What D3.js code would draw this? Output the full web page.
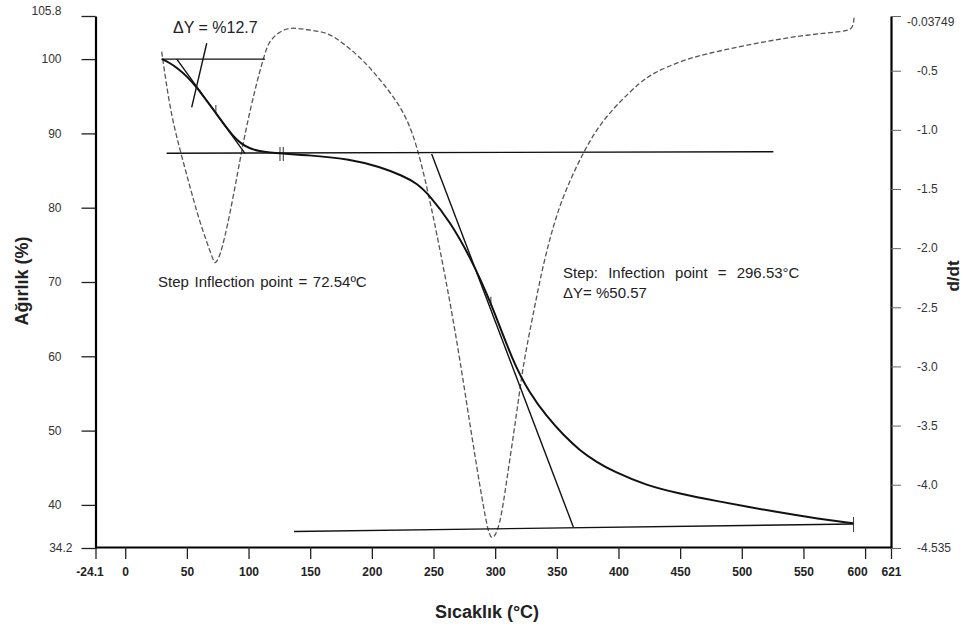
<!DOCTYPE html>
<html>
<head>
<meta charset="utf-8">
<script src="https://cdnjs.cloudflare.com/ajax/libs/d3/7.8.5/d3.min.js"></script>
<style>
  body { margin: 0; background: #fff; }
  svg { display: block; font-family: "Liberation Sans", Arial, sans-serif; }
</style>
</head>
<body>
<div id="chart"></div>
<script>

// TG curve - temperature (C) and weight (%)
var tgTemp = [29.6, 36, 41.8, 50, 58, 66, 74.2, 81, 87.7, 94, 101.2, 109, 117.4, 125.5, 150, 182.3, 206.6, 225,
	236.4, 247.2, 263.4, 279.6, 295.8, 314.7, 328.2, 341.8, 355.3, 368.8, 382, 395.8, 422.9, 450, 476.9, 531, 560, 590.4];
var tgWeight = [100, 99.5, 98.85, 97.7, 96.2, 94.4, 92.6, 91.0, 89.6, 88.6, 87.95, 87.6, 87.42, 87.3, 87.05, 86.55, 85.5, 84.3,
	83.3, 81.6, 78.1, 73.4, 67.6, 59.1, 55.0, 51.9, 49.4, 47.3, 45.8, 44.5, 42.6, 41.5, 40.6, 38.95, 38.2, 37.52];

// DTG curve - temperature (C) and d/dt
var dtgTemp = [29.6, 36.3, 44.4, 52.5, 60.6, 71.4, 72.8, 78.2, 87.7, 94.5, 101.2, 109.3, 113.4, 116.0, 122.8,
	133.6, 147.2, 163.4, 176.9, 193.1, 209.3, 225.5, 236.4, 247.2, 255.3, 263.4, 271.5, 279.6, 287.7, 293.4, 297.2,
	303.9, 309.4, 317.5, 322.8, 331.0, 339.0, 349.9, 360.7, 372.5, 385.0, 401.2, 417.4, 428.2, 449.9, 471.5,
	498.5, 525.6, 552.6, 579.6, 590.4, 591];
var dtgValue = [-0.339, -0.832, -1.170, -1.481, -1.790, -2.100, -2.143, -2.044, -1.565, -1.170, -0.832, -0.494, -0.353, -0.268, -0.184,
	-0.128, -0.156, -0.170, -0.268, -0.410, -0.607, -0.832, -1.114, -1.60, -2.016, -2.455, -2.946, -3.495, -4.019, -4.357, -4.49,
	-4.355, -3.960, -3.396, -2.974, -2.551, -2.128, -1.705, -1.424, -1.17, -0.95, -0.76, -0.60, -0.52, -0.42, -0.355,
	-0.297, -0.240, -0.198, -0.170, -0.156, -0.045];

// Step analysis construction lines [[T, W], [T, W]]
var step1Segments = [
	[[29.6, 100], [113.4, 100]],
	[[41.8, 100], [97.1, 87.32]],
	[[33.6, 87.32], [525.6, 87.54]],
	[[66.1, 102.13], [53.9, 93.51]]
];
var step2Segments = [
	[[248.5, 87.23], [363.4, 37.03]],
	[[136.9, 36.42], [590.6, 37.43]]
];
// small marker ticks
var markerSegments = [
	[[73.5, 93.82], [73.5, 92.7]],
	[[125.5, 88.17], [125.5, 86.28]],
	[[128.2, 88.17], [128.2, 86.28]],
	[[296.5, 68.0], [296.5, 66.8]],
	[[590.6, 38.37], [590.6, 36.35]]
];

// Tick values
var xTicks = [-24.1, 0, 50, 100, 150, 200, 250, 300, 350, 400, 450, 500, 550, 600, 621];
var yLeftTicks = [34.2, 40, 50, 60, 70, 80, 90, 100, 105.8];
var yRightTicks = [-4.535, -4.0, -3.5, -3.0, -2.5, -2.0, -1.5, -1.0, -0.5, -0.03749];
var yRightLabels = ["-4.535", "-4.0", "-3.5", "-3.0", "-2.5", "-2.0", "-1.5", "-1.0", "-0.5", "-0.03749"];

var width = 963, height = 628;

var svg = d3.select('#chart').append('svg')
	.attr('width', width)
	.attr('height', height);

// Scales
var x = d3.scaleLinear().domain([-24.1, 621]).range([95.5, 891]);
var yL = d3.scaleLinear().domain([34.2, 105.8]).range([548, 16]);
var yR = d3.scaleLinear().domain([-4.535, -0.03749]).range([548, 16]);

// Axes
var xAxis = svg.append('g')
	.attr('transform', 'translate(0,547)')
	.call(d3.axisBottom(x).tickValues(xTicks).tickSize(12).tickSizeOuter(0).tickPadding(8)
		.tickFormat(function(d) { return String(d); }));
xAxis.select('.domain').attr('stroke-width', 2.2);
xAxis.selectAll('.tick line').attr('stroke', '#222').attr('stroke-width', 1.3);
xAxis.selectAll('.tick text')
	.attr('font-size', 12).attr('font-weight', 'bold').attr('fill', '#222')
	.attr('font-family', '"Liberation Sans", Arial, sans-serif')
	.attr('dx', function(d) { return d === -24.1 ? -6 : (d === 600 ? -8 : 0); });

var leftAxis = svg.append('g')
	.attr('transform', 'translate(95.5,0)')
	.call(d3.axisLeft(yL).tickValues(yLeftTicks).tickSize(14).tickSizeOuter(0).tickPadding(20)
		.tickFormat(function(d) { return String(d); }));
leftAxis.select('.domain').attr('stroke-width', 2.2);
leftAxis.selectAll('.tick line').attr('stroke', '#222').attr('stroke-width', 1.3);
leftAxis.selectAll('.tick text')
	.attr('font-size', 12).attr('fill', '#333')
	.attr('font-family', '"Liberation Sans", Arial, sans-serif')
	.attr('dy', function(d) { return d === 105.8 ? '-0.1em' : '0.32em'; })
	.attr('dx', function(d) { return d === 34.2 ? 11 : 0; });

var rightAxis = svg.append('g')
	.attr('transform', 'translate(891,0)')
	.call(d3.axisRight(yR).tickValues(yRightTicks).tickSize(10).tickSizeOuter(0).tickPadding(16)
		.tickFormat(function(d, i) { return yRightLabels[i]; }));
rightAxis.select('.domain').attr('stroke-width', 2.2);
rightAxis.selectAll('.tick line').attr('stroke', '#666').attr('stroke-width', 1);
rightAxis.selectAll('.tick text')
	.attr('font-size', 12).attr('fill', '#333')
	.attr('font-family', '"Liberation Sans", Arial, sans-serif')
	.attr('dx', function(d) { return d === -0.03749 ? -10 : 0; })
	.attr('dy', function(d) { return d === -0.03749 ? '0.8em' : '0.32em'; });

// Axis titles
svg.append('text')
	.attr('transform', 'translate(28,281) rotate(-90)')
	.attr('text-anchor', 'middle')
	.attr('font-size', 18).attr('font-weight', 'bold').attr('fill', '#222')
	.text('Ağırlık (%)');

svg.append('text')
	.attr('transform', 'translate(959,276) rotate(-90)')
	.attr('text-anchor', 'middle')
	.attr('font-size', 17).attr('font-weight', 'bold').attr('fill', '#222')
	.text('d/dt');

svg.append('text')
	.attr('x', 487).attr('y', 618)
	.attr('text-anchor', 'middle')
	.attr('font-size', 18).attr('font-weight', 'bold').attr('fill', '#222')
	.text('Sıcaklık (°C)');

// DTG dashed curve
var dtgLine = d3.line()
	.x(function(d, i) { return x(dtgTemp[i]); })
	.y(function(d) { return yR(d); })
	.curve(d3.curveBasis);

svg.append('path')
	.attr('d', dtgLine(dtgValue))
	.attr('fill', 'none')
	.attr('stroke', '#555')
	.attr('stroke-width', 1.3)
	.attr('stroke-dasharray', '5,2.5');

// Construction lines
var segLine = d3.line()
	.x(function(d) { return x(d[0]); })
	.y(function(d) { return yL(d[1]); });

svg.selectAll('.seg')
	.data(step1Segments.concat(step2Segments))
	.enter().append('path')
	.attr('class', 'seg')
	.attr('d', segLine)
	.attr('fill', 'none')
	.attr('stroke', '#111')
	.attr('stroke-width', 1.4);

svg.selectAll('.marker')
	.data(markerSegments)
	.enter().append('path')
	.attr('class', 'marker')
	.attr('d', segLine)
	.attr('fill', 'none')
	.attr('stroke', '#444')
	.attr('stroke-width', 1.1);

// TG solid curve
var tgLine = d3.line()
	.x(function(d, i) { return x(tgTemp[i]); })
	.y(function(d) { return yL(d); })
	.curve(d3.curveBasis);

svg.append('path')
	.attr('d', tgLine(tgWeight))
	.attr('fill', 'none')
	.attr('stroke', '#111')
	.attr('stroke-width', 2);

// Annotations
var notes = svg.append('g')
	.attr('font-size', 15).attr('fill', '#222');

notes.append('text').attr('x', 173).attr('y', 33).attr('font-size', 16).text('ΔY = %12.7');
notes.append('text').attr('x', 158).attr('y', 287).attr('word-spacing', 1.5).text('Step Inflection point = 72.54ºC');
notes.append('text').attr('x', 563).attr('y', 278).attr('word-spacing', 6).text('Step: Infection point = 296.53°C');
notes.append('text').attr('x', 563).attr('y', 298).text('ΔY= %50.57');

</script>
</body>
</html>
